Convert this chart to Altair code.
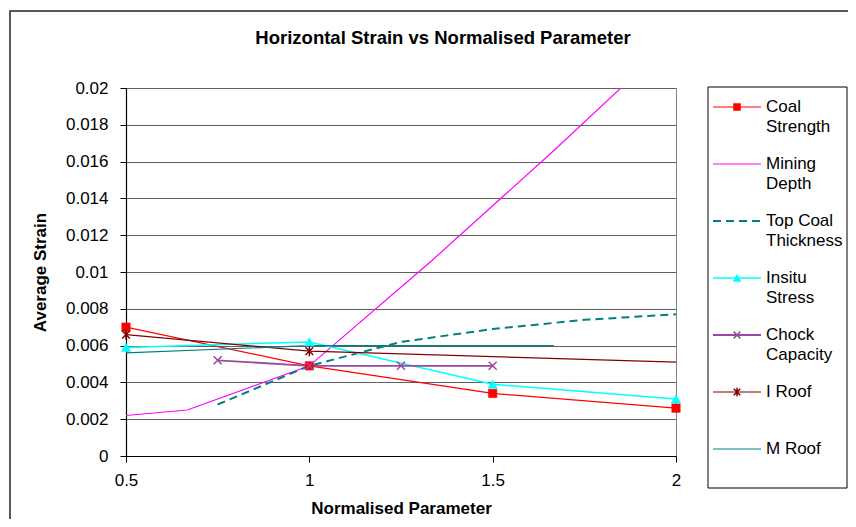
import altair as alt
import pandas as pd

FONT = "Liberation Sans"

chart_title = "Horizontal Strain vs Normalised Parameter"
series_names = ["Coal Strength", "Mining Depth", "Top Coal Thickness", "Insitu Stress",
                "Chock Capacity", "I Roof", "M Roof"]
legend_labels = ["Coal\nStrength", "Mining\nDepth", "Top Coal\nThickness", "Insitu\nStress",
                 "Chock\nCapacity", "I Roof", "M Roof"]

coal_x = [0.5, 1.0, 1.5, 2.0]
coal_y = [0.0070, 0.0049, 0.0034, 0.0026]
depth_x = [0.5, 0.667, 1.0, 1.333, 1.667, 2.0]
depth_y = [0.0022, 0.0025, 0.0049, 0.0106, 0.0166, 0.0228]
topcoal_x = [0.75, 1.0, 1.25, 1.5, 1.75, 2.0]
topcoal_y = [0.0028, 0.0049, 0.0062, 0.0069, 0.0074, 0.0077]
insitu_x = [0.5, 1.0, 1.5, 2.0]
insitu_y = [0.0059, 0.0062, 0.0039, 0.0031]
chock_x = [0.75, 1.0, 1.25, 1.5]
chock_y = [0.0052, 0.0049, 0.0049, 0.0049]
iroof_x = [0.5, 1.0, 2.0]
iroof_y = [0.0066, 0.0057, 0.0051]
iroof_marked = [1, 1, 0]
mroof_x = [0.5, 1.0, 1.667]
mroof_y = [0.0056, 0.0060, 0.0060]

x_ticks = [0.5, 1, 1.5, 2]
y_ticks = [0, 0.002, 0.004, 0.006, 0.008, 0.01, 0.012, 0.014, 0.016, 0.018, 0.02]

X_SHAPE = "M-1,-1L1,1M-1,1L1,-1"
STAR_SHAPE = "M-1,-1L1,1M-1,1L1,-1M0,-1.3L0,1.3"

styles = {
    "Coal Strength": dict(color="#FF0000", width=1.2, dash=None, shape="square", filled=True, size=72),
    "Mining Depth": dict(color="#FF00FF", width=1.2, dash=None, shape=None),
    "Top Coal Thickness": dict(color="#008080", width=2, dash=[8, 5], shape=None),
    "Insitu Stress": dict(color="#00FFFF", width=1.5, dash=None, shape="triangle-up", filled=True, size=90),
    "Chock Capacity": dict(color="#9a48a0", width=1.8, dash=None, shape=X_SHAPE, filled=False, size=64),
    "I Roof": dict(color="#800000", width=1.2, dash=None, shape=STAR_SHAPE, filled=False, size=60),
    "M Roof": dict(color="#008080", width=1.2, dash=None, shape=None),
}

data_lists = {
    "Coal Strength": (coal_x, coal_y, None),
    "Mining Depth": (depth_x, depth_y, None),
    "Top Coal Thickness": (topcoal_x, topcoal_y, None),
    "Insitu Stress": (insitu_x, insitu_y, None),
    "Chock Capacity": (chock_x, chock_y, None),
    "I Roof": (iroof_x, iroof_y, iroof_marked),
    "M Roof": (mroof_x, mroof_y, None),
}

rows = []
for name in series_names:
    xs, ys, marks = data_lists[name]
    for i, (xv, yv) in enumerate(zip(xs, ys)):
        rows.append({"series": name, "x": xv, "y": yv,
                     "marked": 1 if marks is None else marks[i]})
df = pd.DataFrame(rows)

x_enc = alt.X("x:Q", scale=alt.Scale(domain=[0.5, 2], nice=False, zero=False),
              axis=alt.Axis(values=x_ticks, format="~g", title="Normalised Parameter", grid=False,
                            labelFlush=False, labelPadding=10,
                            titleX=275, titleY=52, titleBaseline="middle", titleAlign="center"))
y_enc = alt.Y("y:Q", scale=alt.Scale(domain=[0, 0.02], nice=False),
              axis=alt.Axis(values=y_ticks, format="~g", title="Average Strain", grid=True,
                            labelFlush=False, labelPadding=12,
                            titleX=-86, titleY=184, titleAngle=270, titleBaseline="middle",
                            titleAlign="center"))

data_layers = []
for name in series_names:
    st = styles[name]
    base = alt.Chart(df).transform_filter(alt.datum.series == name)
    line_kwargs = dict(color=st["color"], strokeWidth=st["width"], clip=True)
    if st["dash"]:
        line_kwargs["strokeDash"] = st["dash"]
    data_layers.append(base.mark_line(**line_kwargs).encode(x=x_enc, y=y_enc))
for name in series_names:
    st = styles[name]
    if st["shape"] is None:
        continue
    base = alt.Chart(df).transform_filter((alt.datum.series == name) & (alt.datum.marked == 1))
    pk = dict(shape=st["shape"], size=st["size"], filled=st["filled"], opacity=1)
    if st["filled"]:
        pk.update(fill=st["color"], stroke=st["color"], strokeWidth=0.5)
    else:
        pk.update(stroke=st["color"], strokeWidth=1.5)
    data_layers.append(base.mark_point(**pk).encode(x=x_enc, y=y_enc))

data_layer = alt.layer(*data_layers)

# legend
leg_df = pd.DataFrame({"series": series_names, "label": legend_labels,
                       "idx": list(range(len(series_names)))})
leg_y = alt.Y("idx:Q", scale=alt.Scale(domain=[0, 6], range=[19, 361]), axis=None)
one = pd.DataFrame({"a": [0]})
leg_layers = [
    alt.Chart(one).mark_rect(fill="white", stroke="black", strokeWidth=1).encode(
        x=alt.value(582), x2=alt.value(721), y=alt.value(-1), y2=alt.value(400))
]
for name in series_names:
    st = styles[name]
    base = alt.Chart(leg_df).transform_filter(alt.datum.series == name)
    rk = dict(color=st["color"], strokeWidth=st["width"])
    if st["dash"]:
        rk["strokeDash"] = st["dash"]
    leg_layers.append(base.mark_rule(**rk).encode(x=alt.value(587), x2=alt.value(635), y=leg_y))
    if st["shape"] is not None:
        pk = dict(shape=st["shape"], size=st["size"] * 0.7, filled=st["filled"], opacity=1)
        if st["filled"]:
            pk.update(fill=st["color"], stroke=st["color"], strokeWidth=0.5)
        else:
            pk.update(stroke=st["color"], strokeWidth=1.5)
        leg_layers.append(base.mark_point(**pk).encode(x=alt.value(611), y=leg_y))
leg_layers.append(
    alt.Chart(leg_df).mark_text(align="left", baseline="top", dy=-8, lineBreak="\n",
                                fontSize=17, font=FONT, lineHeight=20, color="black").encode(
        x=alt.value(640), y=leg_y, text="label:N")
)
legend_layer = alt.layer(*leg_layers)

frame = alt.Chart(one).mark_rect(fill="white", fillOpacity=0, stroke="#222222", strokeWidth=1.5).encode(
    x=alt.value(-116), x2=alt.value(760), y=alt.value(-77), y2=alt.value(470))

title_mark = alt.Chart(one).mark_text(text=chart_title, font=FONT, fontSize=18.5, fontWeight="bold",
                                      align="center", baseline="middle", color="black").encode(
    x=alt.value(317), y=alt.value(-50))

chart = alt.layer(frame, title_mark, data_layer, legend_layer).resolve_scale(y="independent").properties(
    width=550, height=368,
    autosize=alt.AutoSizeParams(type="none"),
    padding={"left": 118, "top": 80, "right": 172, "bottom": 63},
    background="white",
).configure_view(stroke="#808080", strokeWidth=1).configure_axis(
    labelFont=FONT, labelFontSize=17, labelColor="black",
    titleFont=FONT, titleFontSize=17, titleFontWeight="bold", titleColor="black",
    domainColor="black", domainWidth=1.2, tickColor="black", tickSize=6, tickWidth=1,
    gridColor="#606060", gridWidth=1,
)

chart.save("out.html", embed_options={"renderer": "svg", "actions": False})
